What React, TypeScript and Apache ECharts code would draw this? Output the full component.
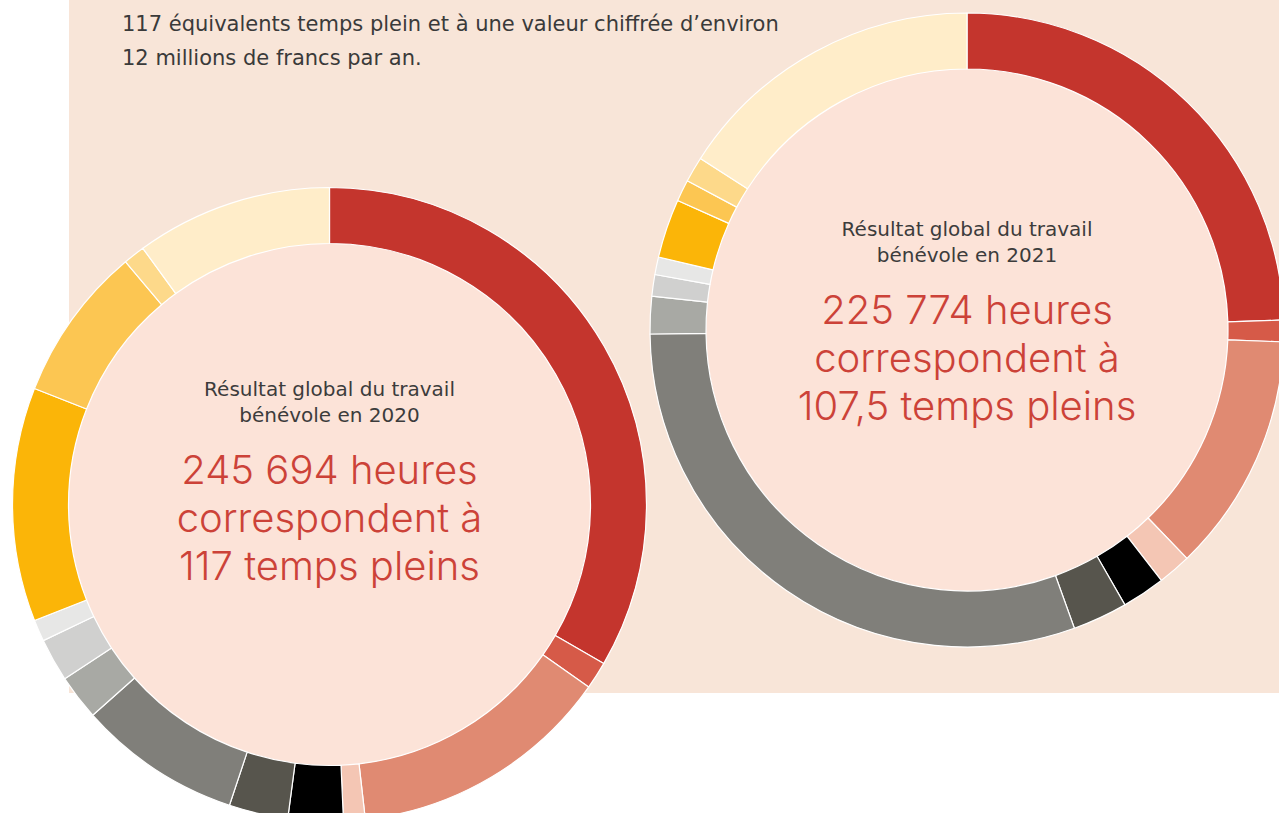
import React, { useEffect, useRef } from "react";
import * as echarts from "echarts";

const categories = [
  "Catégorie 1", "Catégorie 2", "Catégorie 3", "Catégorie 4", "Catégorie 5",
  "Catégorie 6", "Catégorie 7", "Catégorie 8", "Catégorie 9", "Catégorie 10",
  "Catégorie 11", "Catégorie 12", "Catégorie 13", "Catégorie 14",
];
const colors = [
  "#C4352D", "#D65A48", "#E08A72", "#F4C6B4", "#000000", "#57554D", "#807F7A",
  "#A8A9A4", "#D0D0CF", "#E7E7E6", "#FBB508", "#FCC652", "#FDD98A", "#FFEDC9",
];
// share of hours (%)
const values2020 = [33.3, 1.4, 13.4, 1.1, 2.8, 3.0, 8.3, 2.3, 2.2, 1.1, 11.9, 7.9, 1.1, 10.0];
const values2021 = [24.5, 1.1, 12.2, 1.7, 2.2, 2.8, 30.3, 1.9, 1.1, 0.9, 3.0, 1.1, 1.3, 15.9];

const introLines = [
  "117 équivalents temps plein et à une valeur chiffrée d’environ",
  "12 millions de francs par an.",
];
const label2020 = ["Résultat global du travail", "bénévole en 2020"];
const big2020 = ["245 694 heures", "correspondent à", "117 temps pleins"];
const label2021 = ["Résultat global du travail", "bénévole en 2021"];
const big2021 = ["225 774 heures", "correspondent à", "107,5 temps pleins"];

const SMALL_FONT = "'DejaVu Sans', sans-serif";
const BIG_FONT = "Inter, Roboto, sans-serif";

export default function App() {
  const ref = useRef<HTMLDivElement>(null);
  useEffect(() => {
    if (!ref.current) return;
    const chart = echarts.init(ref.current, undefined, { renderer: "svg" });

    const ring = (vals: number[], center: number[]) => ({
      type: "pie",
      center,
      radius: [261, 317],
      startAngle: 90,
      clockwise: true,
      silent: true,
      label: { show: false },
      labelLine: { show: false },
      itemStyle: { borderColor: "#ffffff", borderWidth: 1.2 },
      emphasis: { disabled: true },
      data: vals.map((v, i) => ({ name: categories[i], value: v, itemStyle: { color: colors[i] } })),
    });
    const disc = (center: number[]) => ({
      type: "pie",
      center,
      radius: [0, 261],
      silent: true,
      label: { show: false },
      labelLine: { show: false },
      emphasis: { disabled: true },
      itemStyle: { color: "#FCE3D8", borderWidth: 0 },
      data: [{ name: "fond", value: 1 }],
    });

    const texts: any[] = [];
    const addLines = (lines: string[], x: number, y0: number, step: number, size: number, color: string, align: string, weight: any, family: string) => {
      lines.forEach((t, i) => {
        texts.push({
          type: "text",
          z: 100,
          x,
          y: y0 + i * step,
          style: {
            text: t,
            fill: color,
            font: `${weight} ${size}px ${family}`,
            textAlign: align,
            textVerticalAlign: "middle",
          },
        });
      });
    };
    addLines(introLines, 122, 24, 34, 21, "#3a3a3a", "left", 400, SMALL_FONT);
    addLines(label2020, 329.5, 389, 26, 20, "#3c3c3c", "center", 400, SMALL_FONT);
    addLines(big2020, 329.5, 469, 48, 40, "#CC4238", "center", 300, BIG_FONT);
    addLines(label2021, 967, 229, 26, 20, "#3c3c3c", "center", 400, SMALL_FONT);
    addLines(big2021, 967, 309, 48, 40, "#CC4238", "center", 300, BIG_FONT);

    chart.setOption({
      animation: false,
      backgroundColor: "#ffffff",
      graphic: {
        elements: [
          { type: "rect", z: -10, shape: { x: 69, y: 0, width: 1210, height: 693 }, style: { fill: "#F8E5D8" } },
          ...texts,
        ],
      },
      series: [
        disc([329.5, 504.5]),
        ring(values2020, [329.5, 504.5]),
        disc([967, 330]),
        ring(values2021, [967, 330]),
      ],
    });
    return () => chart.dispose();
  }, []);
  return <div ref={ref} style={{ position: "fixed", left: 0, top: 0, width: 1279, height: 813 }} />;
}
